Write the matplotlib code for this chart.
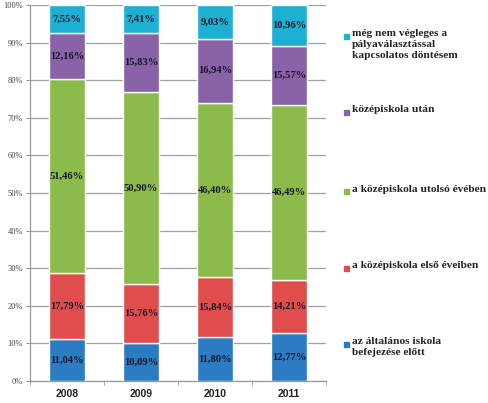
"""Pályaválasztási döntés időpontja évenként: 100%-os halmozott oszlopdiagram."""

import matplotlib
matplotlib.use("Agg")
import matplotlib.pyplot as plt
from matplotlib.patches import Rectangle
import numpy as np

years = ["2008", "2009", "2010", "2011"]

series_names = [
    "az általános iskola\nbefejezése előtt",
    "a középiskola első éveiben",
    "a középiskola utolsó évében",
    "középiskola után",
    "még nem végleges a\npályaválasztással\nkapcsolatos döntésem",
]

vals_altalanos = [11.04, 10.09, 11.80, 12.77]
vals_elso = [17.79, 15.76, 15.84, 14.21]
vals_utolso = [51.46, 50.90, 46.40, 46.49]
vals_utana = [12.16, 15.83, 16.94, 15.57]
vals_nem_vegleges = [7.55, 7.41, 9.03, 10.96]

series_vals = [vals_altalanos, vals_elso, vals_utolso, vals_utana, vals_nem_vegleges]
colors = ["#2b7cc2", "#e14d4c", "#8cbb4b", "#8962a8", "#1eb0d3"]

# függőleges helyzet a jelmagyarázatban (ábra képpontjai, felülről), lentről felfelé
legend_y_px = [344, 268, 192, 112, 36]

W, H = 489, 403
fig = plt.figure(figsize=(W / 100, H / 100), dpi=100)
ax = fig.add_axes([30 / W, 1 - 381 / H, (326 - 30) / W, (381 - 5) / H])

x = np.arange(len(years))
bottom = np.zeros(len(years))
serif = "Liberation Serif"
for vals, col in zip(series_vals, colors):
    vals = np.array(vals)
    ax.bar(x, vals, 0.49, bottom=bottom, color=col, edgecolor="white",
           linewidth=1.0, zorder=3)
    for xi, b, v in zip(x, bottom, vals):
        ax.text(xi, b + v / 2, f"{v:.2f}".replace(".", ",") + "%",
                ha="center", va="center", fontsize=7.6, fontweight="bold",
                family=serif, color="#151528", zorder=4)
    bottom += vals

ax.set_xlim(-0.5, len(years) - 0.5)
ax.set_ylim(0, 100)
ax.set_yticks(np.arange(0, 101, 10))
ax.set_yticklabels([f"{t}%" for t in range(0, 101, 10)], family=serif,
                   fontsize=6, color="#444444")
ax.set_xticks(x)
ax.set_xticklabels(years, family="Liberation Sans", fontweight="bold",
                   fontsize=7.5, color="#222222")
ax.set_xticks(np.arange(-0.5, len(years), 1.0), minor=True)
ax.tick_params(axis="x", which="major", length=0, pad=6)
ax.tick_params(axis="x", which="minor", length=3, color="#999999")
ax.tick_params(axis="y", length=3, color="#999999", pad=2)
ax.yaxis.grid(True, color="#a0a0a0", linewidth=0.9, zorder=0)
ax.set_axisbelow(True)
for side in ["top", "right"]:
    ax.spines[side].set_visible(False)
for side in ["left", "bottom"]:
    ax.spines[side].set_color("#999999")
    ax.spines[side].set_linewidth(0.9)

# jelmagyarázat kézzel, a minta elrendezése szerint
for name, col, ypx in zip(series_names, colors, legend_y_px):
    fig.add_artist(Rectangle((344 / W, 1 - (ypx + 2.5) / H), 5 / W, 5 / H,
                             transform=fig.transFigure, color=col))
    fig.text(352 / W, 1 - (ypx - 7) / H, name, ha="left", va="top",
             family=serif, fontsize=8.2, fontweight="bold", color="#222222",
             linespacing=1.25)

fig.savefig("out.png", dpi=100)
